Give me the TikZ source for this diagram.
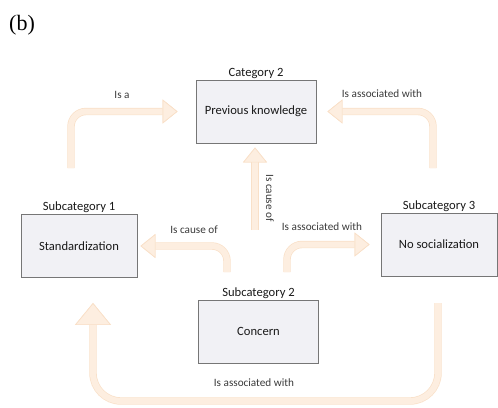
\documentclass[tikz,border=0pt]{standalone}
\usepackage{fontspec}
\setmainfont{Carlito}
\newfontfamily\panelfont{Liberation Serif}
\usetikzlibrary{arrows.meta,calc}

\definecolor{flowfill}{RGB}{253,238,224}
\definecolor{flowedge}{RGB}{249,224,200}
\definecolor{boxfill}{RGB}{241,241,245}
\definecolor{boxline}{RGB}{118,118,118}
\definecolor{boxtext}{RGB}{25,25,25}
\definecolor{labeltext}{RGB}{58,58,58}

\tikzset{
  catbox/.style={draw=boxline, fill=boxfill, line width=0.9pt,
    minimum width=120pt, minimum height=63pt, inner sep=0pt,
    text=boxtext, font=\fontsize{12.6}{14}\selectfont},
  cattitle/.style={text=boxtext, font=\fontsize{12.6}{14}\selectfont, inner sep=1pt},
  flowlabel/.style={text=labeltext, font=\fontsize{11.2}{13}\selectfont, inner sep=1pt},
  flow/.style={line width=6pt, draw=flowfill, rounded corners=15pt,
    preaction={draw=flowedge, line width=7.4pt},
    -{Triangle[width=24pt,length=15pt,fill=flowfill,color=flowedge,line width=0.7pt]}},
  bigflow/.style={flow, rounded corners=28pt,
    -{Triangle[width=36pt,length=22pt,fill=flowfill,color=flowedge,line width=0.7pt]}}
}

\begin{document}
\begin{tikzpicture}[x=1pt, y=-1pt]
  \useasboundingbox (0,0) rectangle (498,407);

  % panel tag
  \node[font=\panelfont\fontsize{22}{25}\selectfont, inner sep=0pt] (tag) at (22,25) {(b)};

  % categories
  \node[catbox, label={[cattitle]above:Category 2}] (prev) at (256,111.5) {Previous knowledge};
  \node[catbox, minimum width=116pt, label={[cattitle]above:Subcategory 1}] (std) at (79,246) {Standardization};
  \node[catbox, label={[cattitle]above:Subcategory 2}] (conc) at (258.5,331.5) {Concern};
  \node[catbox, minimum width=116pt, label={[cattitle]above:Subcategory 3}] (nosoc) at (439,244.5) {No socialization};

  % free ends of the flows
  \coordinate (isaTail) at (71,168);
  \coordinate (assocTopTail) at (433,168);
  \coordinate (causeUpTail) at (255,230);
  \coordinate (causeLeftTail) at (227,272);
  \coordinate (assocMidTail) at (287,272);
  \coordinate (assocLowTail) at (438,303);
  \coordinate (assocLowBase) at (438,401);
  \coordinate (stdFoot) at ($(std.south)+(14,0)$);

  % flows
  \draw[flow, shorten >=18pt] (isaTail) |- (prev.west);
  \draw[flow, shorten >=11pt] (assocTopTail) |- (prev.east);
  \draw[flow, shorten >=4pt] (causeUpTail) -- (causeUpTail |- prev.south);
  \draw[flow, shorten >=3pt] (causeLeftTail) |- (std.east);
  \draw[flow, shorten >=11pt] (assocMidTail) |- (nosoc.west);
  \draw[bigflow, shorten >=25pt] (assocLowTail) -- (assocLowBase) -| (stdFoot);

  % flow labels
  \node[flowlabel] (lIsa) at (122,95) {Is a};
  \node[flowlabel] (lTop) at (382,94) {Is associated with};
  \node[flowlabel, rotate=-90] (lUp) at (270,198) {Is cause of};
  \node[flowlabel] (lLeft) at (194,230) {Is cause of};
  \node[flowlabel] (lMid) at (322,227) {Is associated with};
  \node[flowlabel] (lLow) at (254,383) {Is associated with};
\end{tikzpicture}
\end{document}
